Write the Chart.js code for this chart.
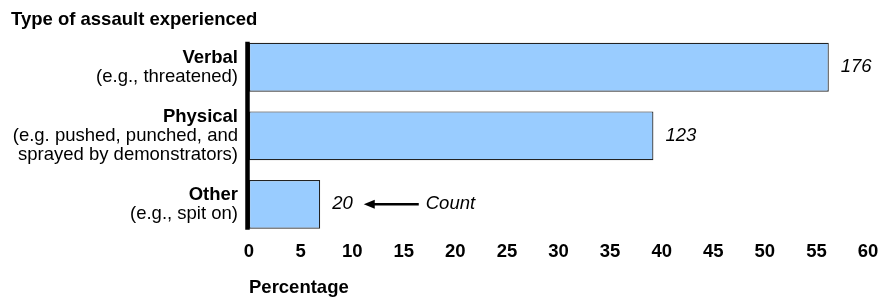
<!DOCTYPE html>
<html>
<head>
<meta charset="utf-8">
<script src="https://cdn.jsdelivr.net/npm/chart.js@4/dist/chart.umd.min.js"></script>
<style>
    body { margin: 0; background: #fff; }
    #wrap { width: 887px; height: 299px; }
</style>
</head>
<body>
<div id="wrap"><canvas id="assault-chart"></canvas></div>
<script>
const categories = ['Verbal', 'Physical', 'Other'];
const examples = [
    ['(e.g., threatened)'],
    ['(e.g. pushed, punched, and', 'sprayed by demonstrators)'],
    ['(e.g., spit on)'],
];
const percentages = [56.2, 39.2, 6.9];
const counts = [176, 123, 20];
const countNote = 'Count';
const chartTitle = 'Type of assault experienced';
const axisTitle = 'Percentage';

const fontFamily = '"Liberation Sans", Arial, sans-serif';
const fontSize = 18.5;

const labelsPlugin = {
    id: 'labelsPlugin',
    afterDraw(chart) {
        const ctx = chart.ctx;
        const bars = chart.getDatasetMeta(0).data;
        const area = chart.chartArea;

        ctx.save();
        ctx.fillStyle = '#000';

        // title
        ctx.font = `bold ${fontSize}px ${fontFamily}`;
        ctx.textAlign = 'left';
        ctx.textBaseline = 'alphabetic';
        ctx.fillText(chartTitle, 11, 25);

        // category labels, bold name then examples
        const lineHeight = 18.8;
        ctx.textAlign = 'right';
        ctx.textBaseline = 'middle';
        bars.forEach((bar, i) => {
            const lines = [categories[i]].concat(examples[i]);
            const startY = bar.y - ((lines.length - 1) * lineHeight) / 2;
            lines.forEach((line, j) => {
                ctx.font = (j === 0 ? 'bold ' : '') + `${fontSize}px ${fontFamily}`;
                ctx.fillText(line, 238, startY + j * lineHeight);
            });
        });

        // counts next to bars
        ctx.font = `italic ${fontSize}px ${fontFamily}`;
        ctx.textAlign = 'left';
        let lastEnd = 0;
        bars.forEach((bar, i) => {
            const x = bar.x + 12;
            ctx.fillText(String(counts[i]), x, bar.y);
            lastEnd = x + ctx.measureText(String(counts[i])).width;
        });

        // arrow pointing at last count
        const last = bars[bars.length - 1];
        const tipX = lastEnd + 11;
        const tailX = tipX + 55;
        ctx.strokeStyle = '#000';
        ctx.lineWidth = 2.5;
        ctx.beginPath();
        ctx.moveTo(tipX + 8, last.y);
        ctx.lineTo(tailX, last.y);
        ctx.stroke();
        ctx.beginPath();
        ctx.moveTo(tipX, last.y);
        ctx.lineTo(tipX + 11, last.y - 4.5);
        ctx.lineTo(tipX + 11, last.y + 4.5);
        ctx.closePath();
        ctx.fill();
        ctx.fillText(countNote, tailX + 7, last.y);

        // vertical axis line spanning the bars
        const first = bars[0];
        ctx.lineWidth = 4.5;
        ctx.beginPath();
        ctx.moveTo(area.left - 1.5, first.y - first.height / 2 - 1);
        ctx.lineTo(area.left - 1.5, last.y + last.height / 2 + 1);
        ctx.stroke();

        ctx.restore();
    },
};

new Chart(document.getElementById('assault-chart'), {
    type: 'bar',
    data: {
        labels: categories,
        datasets: [
            {
                data: percentages,
                backgroundColor: '#99ccff',
                borderColor: '#222222',
                borderWidth: 1.2,
                borderSkipped: false,
                categoryPercentage: 1,
                barPercentage: 0.712,
            },
        ],
    },
    options: {
        indexAxis: 'y',
        responsive: true,
        maintainAspectRatio: false,
        animation: false,
        layout: {
            padding: { left: 249, right: 19, top: 33, bottom: 0 },
        },
        plugins: {
            legend: { display: false },
            tooltip: { enabled: false },
        },
        scales: {
            y: {
                ticks: { display: false },
                grid: { display: false, drawTicks: false },
                border: { display: false },
            },
            x: {
                min: 0,
                max: 60,
                ticks: {
                    stepSize: 5,
                    color: '#000',
                    padding: 2,
                    maxRotation: 0,
                    font: { family: fontFamily, size: fontSize, weight: 'bold' },
                },
                grid: { display: false, drawTicks: false },
                border: { display: false },
                title: {
                    display: true,
                    text: axisTitle,
                    align: 'start',
                    color: '#000',
                    padding: { top: 12, bottom: 0 },
                    font: { family: fontFamily, size: fontSize, weight: 'bold' },
                },
            },
        },
    },
    plugins: [labelsPlugin],
});
</script>
</body>
</html>
